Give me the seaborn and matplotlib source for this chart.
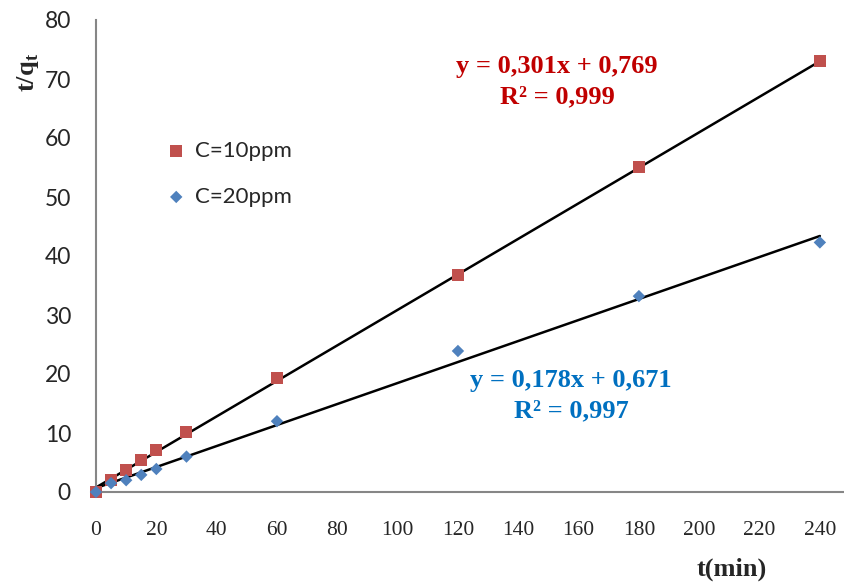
import matplotlib
matplotlib.use("Agg")
import matplotlib.pyplot as plt
import seaborn as sns
import numpy as np
import pandas as pd

sns.set_style("white")

t = [0, 5, 10, 15, 20, 30, 60, 120, 180, 240]
y10 = [0, 2.0, 3.7, 5.5, 7.1, 10.2, 19.3, 36.8, 55.1, 73.0]
y20 = [0, 1.5, 2.0, 2.9, 3.9, 6.0, 12.0, 23.9, 33.2, 42.3]
fit10 = (0.301, 0.769)
fit20 = (0.178, 0.671)
fit_range = [0, 240]
xticks = list(range(0, 241, 20))
yticks = list(range(0, 81, 10))

df10 = pd.DataFrame({"t": t, "y": y10})
df20 = pd.DataFrame({"t": t, "y": y20})

W, H = 844, 584
fig = plt.figure(figsize=(W/100, H/100), dpi=100)
ax = fig.add_axes([96/W, 1-492/H, 748/W, 472/H])

def fpos(px, py):
    return px / W, 1 - py / H

xr = np.array(fit_range, dtype=float)
ax.plot(xr, fit10[0]*xr + fit10[1], color="black", lw=1.8, zorder=2)
ax.plot(xr, fit20[0]*xr + fit20[1], color="black", lw=1.8, zorder=2)

sns.scatterplot(data=df10, x="t", y="y", ax=ax, marker="s", s=75, color="#C0504D",
                edgecolor="none", label="C=10ppm", zorder=3, clip_on=False)
sns.scatterplot(data=df20, x="t", y="y", ax=ax, marker="D", s=40, color="#4F81BD",
                edgecolor="none", label="C=20ppm", zorder=4, clip_on=False)

ax.set_xlim(0, 248)
ax.set_ylim(0, 80)
ax.set_xticks(xticks)
ax.set_yticks(yticks)
ax.set_xticklabels([str(v) for v in xticks], fontfamily="Liberation Serif", fontsize=15.5)
ax.set_yticklabels([str(v) for v in yticks], fontfamily="Lato", fontsize=16.5)
ax.tick_params(axis="x", direction="in", length=8, width=1.5, color="#868686", pad=21)
ax.tick_params(axis="y", direction="in", length=8, width=1.5, color="#868686", pad=18)
for s in ["top", "right"]:
    ax.spines[s].set_visible(False)
for s in ["left", "bottom"]:
    ax.spines[s].set_color("#868686")
    ax.spines[s].set_linewidth(1.5)

ax.set_xlabel("")
ax.set_ylabel("")
fig.text(*fpos(732, 569), "t(min)", fontfamily="Liberation Serif", fontweight="bold",
         fontsize=19, ha="center", va="center")
fig.text(*fpos(28, 72), r"t/q$_\mathregular{t}$", fontfamily="Liberation Serif", fontweight="bold",
         fontsize=19, ha="center", va="center", rotation=90)

eq_kw = dict(fontfamily="Liberation Serif", fontweight="bold", fontsize=19,
             ha="center", va="center")
fig.text(*fpos(557, 67), "y = 0,301x + 0,769", color="#C00000", **eq_kw)
fig.text(*fpos(557, 97), "R² = 0,999", color="#C00000", **eq_kw)
fig.text(*fpos(571, 381), "y = 0,178x + 0,671", color="#0070C0", **eq_kw)
fig.text(*fpos(571, 411), "R² = 0,997", color="#0070C0", **eq_kw)

leg = ax.legend(loc="center left", bbox_to_anchor=(58/748, 1-(174-20)/472), frameon=False,
                prop={"family": "Lato", "size": 16}, handletextpad=0.35, labelspacing=1.15,
                handlelength=1.0, borderpad=0)

fig.savefig("out.png", dpi=100)
